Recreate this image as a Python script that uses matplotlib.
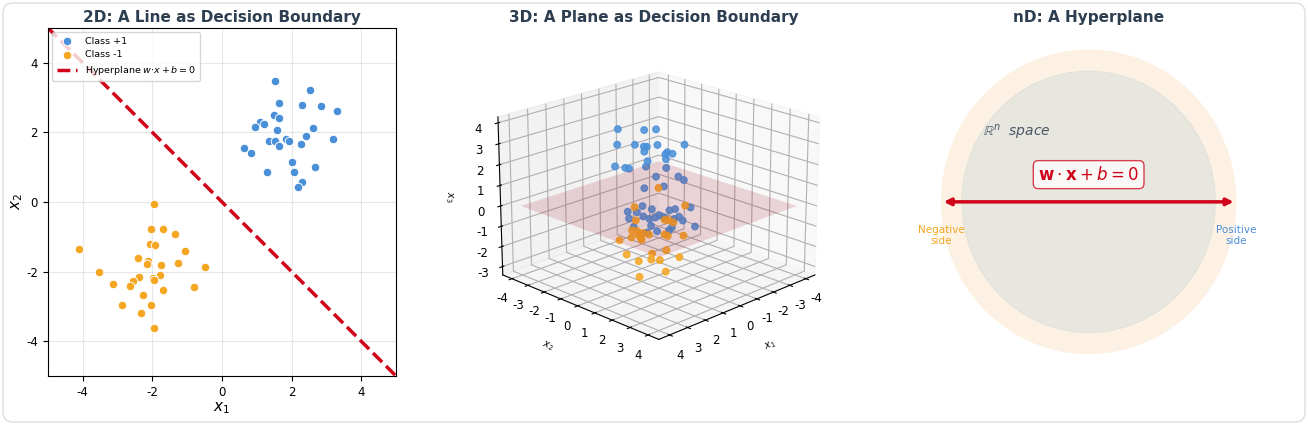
import numpy as np
import matplotlib
matplotlib.use("Agg")
import matplotlib.pyplot as plt
from matplotlib.patches import Circle, FancyBboxPatch

plt.rcParams['axes.unicode_minus'] = False
plt.rcParams['font.family'] = ['DejaVu Sans']

BLUE = '#4A90D9'
ORANGE = '#F5A623'
RED = '#D0021B'
PLANE = '#A00215'
DARK = '#2C3E50'

# ---------------- 2D data ----------------
pos2_x1 = [1.53, 2.53, 1.65, 2.29, 2.84, 3.30, 1.49, 1.65, 1.10, 1.22, 0.95, 2.61, 1.58, 2.42, 1.83,
           3.19, 1.35, 1.54, 1.93, 1.65, 2.27, 0.65, 0.84, 2.01, 2.67, 1.29, 2.08, 2.29, 2.20]
pos2_x2 = [3.47, 3.21, 2.84, 2.77, 2.74, 2.62, 2.48, 2.42, 2.29, 2.24, 2.14, 2.13, 2.07, 1.88, 1.81,
           1.80, 1.75, 1.76, 1.76, 1.61, 1.67, 1.54, 1.41, 1.14, 1.01, 0.86, 0.86, 0.58, 0.42]
neg2_x1 = [-1.95, -2.02, -1.70, -1.34, -4.09, -2.06, -1.91, -1.07, -2.41, -2.12, -2.15, -1.75, -1.27,
           -0.48, -3.53, -1.79, -2.38, -1.99, -1.94, -2.56, -3.12, -2.64, -0.81, -1.70, -2.27, -2.88,
           -2.02, -2.32, -1.94]
neg2_x2 = [-0.05, -0.77, -0.78, -0.92, -1.36, -1.21, -1.25, -1.40, -1.60, -1.69, -1.78, -1.81, -1.77,
           -1.88, -2.00, -2.09, -2.17, -2.20, -2.25, -2.28, -2.36, -2.43, -2.44, -2.54, -2.68, -2.97,
           -2.95, -3.20, -3.62]
line_w = [1.0, 1.0]
line_b = 0.0
line_x = [-5.0, 5.0]

# ---------------- 3D data ----------------
pos3_x1 = [1.66, 0.42, 0.33, 2.17, 1.18, 1.67, 1.09, 0.29, 0.28, 1.91, 0.51, -0.14, 1.07, 0.80, 0.82,
           1.26, 1.70, 2.09, 1.86, 0.29, 1.08, -0.31, 0.04, 1.11, 0.92, 1.96, 1.20, 1.64, 1.87, -0.41,
           1.85, 1.94, 1.02, 1.35, 0.49, 0.86, 1.20, 0.29, 0.81, -0.08, 0.32, 1.72, 1.47, 0.88, -0.54,
           1.34, 1.55, 0.46]
pos3_x2 = [-0.66, -0.42, 0.17, -0.17, -0.18, 0.83, 0.41, 0.21, 1.72, 1.10, 0.99, 0.64, 1.43, 1.20, 0.18,
           -1.26, -0.20, 0.42, 1.14, 0.71, 0.92, 0.81, 1.46, 1.39, 0.09, 1.04, 0.80, -0.14, 0.63, 1.41,
           0.15, 1.06, 0.48, 1.15, 0.51, 1.14, 1.80, 1.22, 1.69, 1.08, 1.68, 1.28, 0.03, 1.62, 1.54,
           0.66, 1.45, 1.04]
pos3_x3 = [3.96, 3.66, 3.82, 3.49, 3.22, 3.53, 3.26, 3.08, 3.49, 3.43, 3.00, 2.66, 3.17, 2.81, 2.44,
           1.92, 2.26, 2.50, 2.73, 2.12, 1.98, 1.57, 1.68, 1.66, 1.15, 0.87, 0.43, 0.16, 0.43, 0.22,
           -0.02, 0.38, -0.19, 0.18, -0.16, 0.04, 0.67, 0.29, 0.11, -0.23, -0.12, -0.07, -0.57, -0.30,
           -0.71, -0.70, -0.33, -0.74]
neg3_x1 = [-0.99, 0.21, -2.29, -0.07, -1.43, -0.67, -0.21, 0.14, -1.03, -0.46, -1.42, -0.51, -1.73, 0.66,
           -0.68, -0.24, -0.47, 0.94, -0.30, -0.60, 0.34, -0.53, 0.22, 0.30, 1.06, -0.66, 0.28, -1.29]
neg3_x2 = [-1.01, -1.21, -0.72, -1.43, -1.08, 0.17, -1.80, -1.14, -1.97, -1.04, -1.08, 0.01, -0.27, -1.66,
           -2.32, -1.26, -0.03, -0.94, -0.70, 0.60, -0.84, -0.98, 0.28, 0.70, -0.06, -1.84, -0.78, -0.71]
neg3_x3 = [0.31, -0.35, -0.86, -1.16, -1.43, -0.96, -1.81, -1.54, -2.25, -1.87, -2.17, -1.63, -2.07, -2.00,
           -2.47, -2.13, -2.34, -2.40, -2.67, -2.53, -2.89, -3.13, -2.52, -2.93, -3.19, -2.21, -1.73, -1.30]
plane_w = [0.0, 0.0, 1.0]
plane_b = 0.0
plane_range = [-4.0, 4.0]
z_limits = [-3.42, 4.28]

# ---------------- nD diagram values ----------------
outer_r = 1.4
inner_r = 1.2
arrow_half = 1.4

W, H = 1308, 425
fig = plt.figure(figsize=(W / 100, H / 100), dpi=100)

# card border
fig.patches.append(FancyBboxPatch((0.03, 0.03), W / 100 - 0.06, H / 100 - 0.06,
                                  boxstyle='round,pad=0,rounding_size=0.10',
                                  transform=fig.dpi_scale_trans, facecolor='white',
                                  edgecolor='#DEDEDE', lw=1.0, zorder=-10))

def rect(l, t, w, h):
    return [l / W, 1 - (t + h) / H, w / W, h / H]

# ---------------- 2D panel ----------------
ax1 = fig.add_axes(rect(47.7, 27.7, 348.3, 348.3))
ax1.scatter(pos2_x1, pos2_x2, s=38, c=BLUE, edgecolors='white', linewidths=0.7, label='Class +1', zorder=3)
ax1.scatter(neg2_x1, neg2_x2, s=38, c=ORANGE, edgecolors='white', linewidths=0.7, label='Class -1', zorder=3)
lx = np.array(line_x)
ly = -(line_w[0] * lx + line_b) / line_w[1]
ax1.plot(lx, ly, color=RED, ls='--', lw=2.5, label=r'Hyperplane $w{\cdot}x + b = 0$', zorder=2)
ax1.set_xlim(-5, 5)
ax1.set_ylim(-5, 5)
ax1.set_xticks([-4, -2, 0, 2, 4])
ax1.set_yticks([-4, -2, 0, 2, 4])
ax1.tick_params(labelsize=8.5)
ax1.grid(True, alpha=0.3)
ax1.set_xlabel(r'$x_1$', fontsize=11, labelpad=1)
ax1.set_ylabel(r'$x_2$', fontsize=11, labelpad=1)
ax1.set_title('2D: A Line as Decision Boundary', fontsize=11, fontweight='bold', color=DARK, pad=4)
leg = ax1.legend(loc='upper left', fontsize=6.8, scatterpoints=1, framealpha=0.8, borderpad=0.45,
                 handlelength=2.2)

# ---------------- 3D panel ----------------
ax2 = fig.add_axes(rect(480, 27.7, 348.3, 348.3), projection='3d', computed_zorder=False)
ax2.scatter(pos3_x1, pos3_x2, pos3_x3, s=22, c=BLUE, alpha=0.85, depthshade=True)
ax2.scatter(neg3_x1, neg3_x2, neg3_x3, s=22, c=ORANGE, alpha=0.85, depthshade=True)
g = np.linspace(plane_range[0], plane_range[1], 10)
xx, yy = np.meshgrid(g, g)
zz = -(plane_w[0] * xx + plane_w[1] * yy + plane_b) / plane_w[2]
ax2.plot_surface(xx, yy, zz, color=PLANE, alpha=0.15, shade=False, linewidth=0)
ax2.set_zlim(*z_limits)
ax2.view_init(elev=20, azim=45)
ax2.set_xticks(range(-4, 5))
ax2.set_yticks(range(-4, 5))
ax2.set_zticks(range(-3, 5))
ax2.tick_params(labelsize=8.5, pad=0)
ax2.set_xlabel(r'$x_1$', fontsize=7, labelpad=2)
ax2.set_ylabel(r'$x_2$', fontsize=7, labelpad=2)
ax2.set_zlabel(r'$x_3$', fontsize=7, labelpad=0)
ax2.set_title('3D: A Plane as Decision Boundary', fontsize=11, fontweight='bold', color=DARK, pad=4)

# ---------------- nD panel ----------------
ax3 = fig.add_axes(rect(914.5, 27.7, 348.3, 348.3))
ax3.add_patch(Circle((0, 0), outer_r, facecolor='#FCF1E3', edgecolor='none'))
ax3.add_patch(Circle((0, 0), inner_r, facecolor='#E8E7DF', edgecolor='#E2E2DC', lw=0.8))
ax3.annotate('', xy=(arrow_half, 0), xytext=(-arrow_half, 0),
             arrowprops=dict(arrowstyle='<|-|>', color=RED, lw=2.5, mutation_scale=10))
ax3.text(0, 0.25, r'$\mathbf{w} \cdot \mathbf{x} + b = 0$', fontsize=12, color=RED,
         ha='center', va='center',
         bbox=dict(boxstyle='round,pad=0.3', facecolor='white', edgecolor=RED, alpha=0.75, lw=1))
ax3.text(-0.68, 0.64, r'$\mathbb{R}^n$  space', fontsize=10, color=DARK, alpha=0.85,
         style='italic', ha='center', va='center')
ax3.text(-1.4, -0.31, 'Negative\nside', fontsize=7.5, color=ORANGE, ha='center', va='center')
ax3.text(1.4, -0.31, 'Positive\nside', fontsize=7.5, color=BLUE, ha='center', va='center')
ax3.set_xlim(-1.65, 1.65)
ax3.set_ylim(-1.6, 1.6)
ax3.axis('off')
ax3.set_title('nD: A Hyperplane', fontsize=11, fontweight='bold', color=DARK, pad=4)

fig.savefig('out.png', dpi=100, facecolor='white')
